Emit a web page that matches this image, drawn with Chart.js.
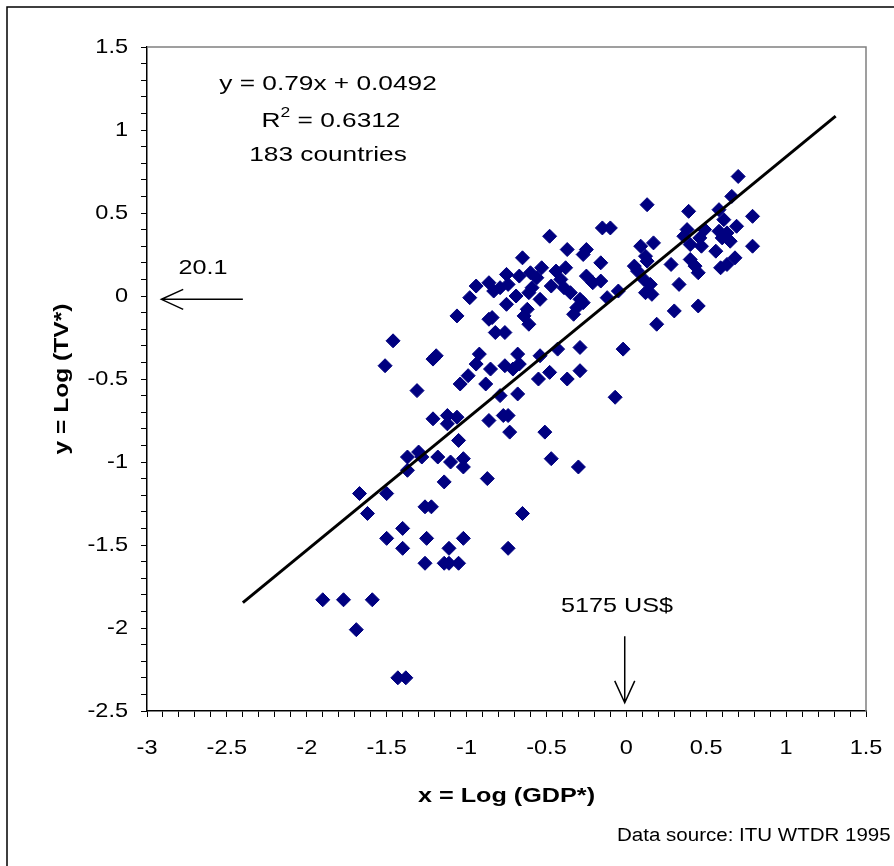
<!DOCTYPE html>
<html>
<head>
<meta charset="utf-8">
<script src="https://cdn.jsdelivr.net/npm/chart.js@4/dist/chart.umd.min.js"></script>
<style>
  html, body { margin: 0; padding: 0; background: #fff; overflow: hidden; }
  #wrap { position: relative; width: 894px; height: 866px; }
</style>
</head>
<body>
<div id="wrap"><canvas id="c" width="894" height="866"></canvas></div>
<script>
// ---- data ----
const xValues = [
  -0.94,-0.86,-0.83,-0.98,-1.06,-0.86,-0.84,-0.82,-1.46,-1.19,-1.21,-0.92,-0.94,-0.85,-1.51,-0.99,-1.04,-0.88,-1.31,
  0.13,-0.15,-0.10,-0.48,-0.65,-0.37,-0.25,-0.27,-0.16,-0.53,-0.44,-0.38,-0.75,-0.67,-0.60,-0.56,
  -0.79,-0.74,-0.59,-0.61,-0.47,-0.41,-0.39,-0.35,-0.25,-0.21,-0.16,-0.69,-0.75,-0.54,-0.29,-0.27,-0.31,-0.33,
  -0.62,-0.64,-0.61,-0.76,-0.12,-0.05,0.05,0.09,0.17,0.12,0.13,0.07,0.11,0.15,0.12,0.16,0.28,0.33,0.30,0.19,
  -0.02,-0.29,-0.43,-0.54,-0.68,-0.76,-0.71,-0.67,-0.48,-0.55,-0.37,-0.29,-0.68,-0.79,-0.07,
  0.70,0.39,0.66,0.58,0.61,0.79,0.69,0.38,0.49,0.58,0.63,0.36,0.46,0.60,0.65,0.40,0.47,0.56,0.79,
  0.40,0.43,0.45,0.59,0.63,0.68,0.45,
  -1.21,-1.12,-1.12,-1.06,-0.86,-1.05,-1.37,-1.30,-1.28,-1.18,-1.10,-1.02,-1.02,-1.37,-0.87,-1.14,
  -1.67,-1.50,-1.62,-1.26,-1.22,-1.40,-1.50,-1.25,-1.02,-1.40,-1.11,-1.26,-1.14,-1.11,-1.05,
  -0.77,-0.74,-0.73,-0.51,-0.47,-0.30,-0.65,-0.74,
  -1.90,-1.77,-1.59,-1.69,-1.43,-1.38
];
const yValues = [
  0.06,0.08,0.03,-0.01,-0.12,-0.14,-0.13,-0.22,-0.27,-0.36,-0.38,-0.35,-0.41,-0.44,-0.42,-0.48,-0.53,-0.53,-0.57,
  0.55,0.41,0.41,0.36,0.23,0.28,0.28,0.25,0.20,0.17,0.15,0.17,0.13,0.12,0.14,0.11,
  0.05,0.07,0.05,0.02,0.06,0.10,0.05,0.02,0.12,0.08,0.09,0.00,-0.05,-0.02,-0.02,-0.04,-0.07,-0.11,
  -0.08,-0.12,-0.17,-0.22,-0.01,0.03,0.18,0.30,0.32,0.24,0.21,0.15,0.10,0.07,0.02,0.01,0.19,0.07,-0.09,-0.17,
  -0.32,-0.31,-0.32,-0.36,-0.35,-0.42,-0.44,-0.41,-0.46,-0.50,-0.50,-0.45,-0.59,-0.60,-0.61,
  0.72,0.51,0.60,0.52,0.46,0.48,0.42,0.40,0.40,0.39,0.38,0.36,0.35,0.35,0.33,0.31,0.30,0.27,0.30,
  0.22,0.18,0.14,0.17,0.19,0.23,-0.06,
  -0.74,-0.72,-0.77,-0.73,-0.75,-0.87,-0.97,-0.94,-0.97,-0.97,-1.00,-0.98,-1.03,-1.05,-1.10,-1.12,
  -1.19,-1.19,-1.31,-1.27,-1.27,-1.40,-1.46,-1.46,-1.46,-1.52,-1.52,-1.61,-1.61,-1.61,-1.61,
  -0.72,-0.72,-0.82,-0.82,-0.98,-1.03,-1.31,-1.52,
  -1.83,-1.83,-1.83,-2.01,-2.30,-2.30
];
const trendSlope = 0.79;
const trendIntercept = 0.0492;
const trendXRange = [-2.4, 1.31];
const xTickLabels = ['-3','-2.5','-2','-1.5','-1','-0.5','0','0.5','1','1.5'];
const yTickLabels = ['1.5','1','0.5','0','-0.5','-1','-1.5','-2','-2.5'];
const equationText = 'y = 0.79x + 0.0492';
const r2Value = '0.6312';
const countText = '183 countries';
const xTitle = 'x = Log (GDP*)';
const yTitle = 'y = Log (TV*)';
const leftArrowLabel = '20.1';
const downArrowLabel = '5175 US$';
const sourceText = 'Data source: ITU WTDR 1995';

// ---- build ----
const points = xValues.map((x, i) => ({ x: x, y: yValues[i] }));
const trendPoints = trendXRange.map(x => ({ x: x, y: trendSlope * x + trendIntercept }));

const FONT = '"Liberation Sans", Arial, sans-serif';

function txt(ctx, s, x, y, size, align, bold, rot, sx) {
  ctx.save();
  ctx.font = (bold ? 'bold ' : '') + size + 'px ' + FONT;
  ctx.fillStyle = '#000';
  ctx.textBaseline = 'middle';
  ctx.textAlign = align;
  ctx.translate(x, y);
  if (rot) ctx.rotate(rot);
  ctx.scale(sx || 1.2, 1);
  ctx.fillText(s, 0, 0);
  ctx.restore();
}

function arrow(ctx, x1, y1, x2, y2) {
  const ang = Math.atan2(y2 - y1, x2 - x1);
  const hl = 24, ha = 0.43;
  ctx.save();
  ctx.strokeStyle = '#000';
  ctx.lineWidth = 1.5;
  ctx.beginPath();
  ctx.moveTo(x1, y1); ctx.lineTo(x2, y2);
  ctx.moveTo(x2 - hl * Math.cos(ang - ha), y2 - hl * Math.sin(ang - ha));
  ctx.lineTo(x2, y2);
  ctx.lineTo(x2 - hl * Math.cos(ang + ha), y2 - hl * Math.sin(ang + ha));
  ctx.stroke();
  ctx.restore();
}

const decor = {
  id: 'decor',
  beforeDraw(chart) {
    const ctx = chart.ctx;
    ctx.save();
    ctx.fillStyle = '#fff';
    ctx.fillRect(0, 0, chart.width, chart.height);
    ctx.restore();
  },
  afterDraw(chart) {
    const ctx = chart.ctx;
    const xs = chart.scales.x, ys = chart.scales.y;
    const a = chart.chartArea;
    ctx.save();
    ctx.strokeStyle = '#808080';
    ctx.lineWidth = 1.5;
    ctx.beginPath();
    ctx.moveTo(a.left, a.top); ctx.lineTo(a.right, a.top); ctx.lineTo(a.right, a.bottom);
    ctx.stroke();
    ctx.restore();
    ctx.save();
    ctx.strokeStyle = '#000';
    ctx.lineWidth = 1.5;
    ctx.strokeRect(7, 7, 1000, 1000);
    ctx.restore();
    // tick labels
    xTickLabels.forEach(l => txt(ctx, l, xs.getPixelForValue(parseFloat(l)), 748, 21, 'center', false, 0, 1.12));
    yTickLabels.forEach(l => txt(ctx, l, 128, ys.getPixelForValue(parseFloat(l)), 21, 'right', false, 0, 1.12));
    // axis titles
    txt(ctx, xTitle, (a.left + a.right) / 2, 796, 21, 'center', true, 0, 1.2);
    txt(ctx, yTitle, 62, (a.top + a.bottom) / 2, 21, 'center', true, -Math.PI / 2, 1.17);
    // equation block
    txt(ctx, equationText, 328, 84, 21, 'center', false, 0, 1.25);
    ctx.save();
    ctx.font = '21px ' + FONT;
    const wR = ctx.measureText('R').width * 1.25;
    const wRest = ctx.measureText(' = ' + r2Value).width * 1.25;
    ctx.font = '14px ' + FONT;
    const w2 = ctx.measureText('2').width * 1.25;
    ctx.restore();
    const total = wR + w2 + wRest;
    const x0 = 331 - total / 2;
    txt(ctx, 'R', x0, 121, 21, 'left', false, 0, 1.25);
    txt(ctx, '2', x0 + wR, 113, 14, 'left', false, 0, 1.25);
    txt(ctx, ' = ' + r2Value, x0 + wR + w2, 121, 21, 'left', false, 0, 1.25);
    txt(ctx, countText, 328, 155, 21, 'center', false, 0, 1.25);
    // arrows
    const yA = ys.getPixelForValue(-0.02);
    arrow(ctx, xs.getPixelForValue(-2.4), yA, xs.getPixelForValue(-2.91), yA);
    txt(ctx, leftArrowLabel, xs.getPixelForValue(-2.65), 268, 21, 'center', false, 0, 1.2);
    const xA = xs.getPixelForValue(-0.01);
    arrow(ctx, xA, ys.getPixelForValue(-2.05), xA, ys.getPixelForValue(-2.45));
    txt(ctx, downArrowLabel, 617, 606, 21, 'center', false, 0, 1.2);
    txt(ctx, sourceText, 617, 836, 18, 'left', false, 0, 1.14);
  }
};

new Chart(document.getElementById('c'), {
  type: 'scatter',
  data: {
    datasets: [
      {
        type: 'line',
        data: trendPoints,
        borderColor: '#000',
        borderWidth: 3,
        pointRadius: 0,
        fill: false,
        order: 0
      },
      {
        type: 'scatter',
        data: points,
        pointStyle: 'rectRot',
        pointRadius: 7,
        backgroundColor: '#000080',
        borderColor: '#000080',
        borderWidth: 1,
        order: 1
      }
    ]
  },
  options: {
    responsive: false,
    animation: false,
    devicePixelRatio: 1,
    layout: { padding: { top: 47, right: 28, left: 0, bottom: 0 } },
    plugins: { legend: { display: false }, tooltip: { enabled: false } },
    scales: {
      x: {
        type: 'linear',
        min: -3, max: 1.5,
        afterFit(s) { s.height = 155; },
        ticks: { display: false, stepSize: 0.1, autoSkip: false, maxTicksLimit: 200 },
        grid: { drawOnChartArea: false, drawTicks: true, tickLength: 6, color: '#000', lineWidth: 1 },
        border: { display: true, color: '#000', width: 1.5 }
      },
      y: {
        type: 'linear',
        min: -2.5, max: 1.5,
        afterFit(s) { s.width = 147; },
        ticks: { display: false, stepSize: 0.1, autoSkip: false, maxTicksLimit: 200 },
        grid: { drawOnChartArea: false, drawTicks: true, tickLength: 6, color: '#000', lineWidth: 1 },
        border: { display: true, color: '#000', width: 1.5 }
      }
    }
  },
  plugins: [decor]
});
</script>
</body>
</html>
